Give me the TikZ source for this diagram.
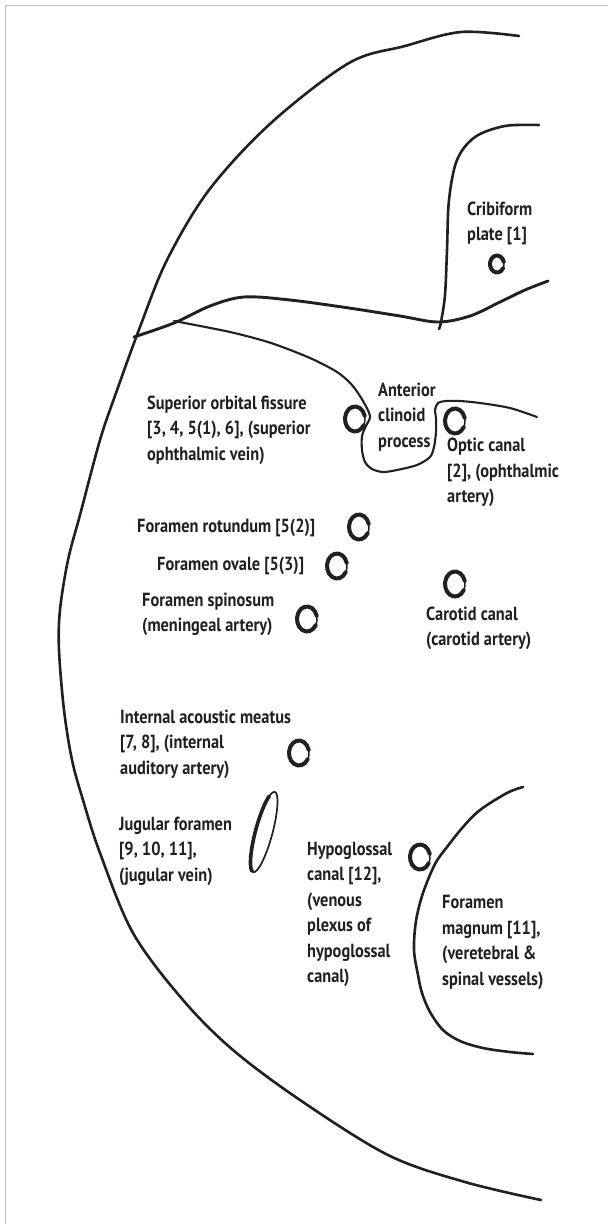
\documentclass[tikz,border=0pt]{standalone}
\usepackage{fontspec}
\setmainfont{PT Sans}[FakeStretch=0.86]
\definecolor{ink}{HTML}{231F20}
\definecolor{rule}{HTML}{BDBDBD}
\newcommand\foramenring[4]{% centre x, centre y, x radius, y radius
  \draw[ink, line width=4, line cap=round]
    ({#1+#3*cos(30)},{#2+#4*sin(30)}) arc[start angle=30, end angle=345, x radius=#3, y radius=#4];
  \draw[ink, line width=1.5, line cap=round]
    ({#1+#3*cos(340)},{#2+#4*sin(340)}) arc[start angle=340, end angle=395, x radius=#3, y radius=#4];
}
\begin{document}
\begin{tikzpicture}[x=1pt, y=-1pt,
  bone/.style={ink, line width=2.6, line cap=round, line join=round},
  fine/.style={ink, line width=2.1, line cap=round, line join=round},
  lab/.style={anchor=west, align=left, inner sep=0pt, text=ink,
    font=\fontsize{19}{25.5}\selectfont\bfseries}]
\useasboundingbox (0,0) rectangle (608,1224);
\fill[white] (0,0) rectangle (608,1224);
% frame edges
\draw[rule, line width=1.8] (5.5,1224) -- (5.5,5.5) -- (608,5.5);

% outline of the cranial base
\draw[bone] plot[smooth, tension=0.55] coordinates {
  (519,36) (461,32) (405,46) (349,63) (271,123) (209,190) (167,260)
  (140,327) (116,393) (100,440) (80,515) (68,560) (60,610) (59,650)
  (64,710) (72,760) (83,800) (100,853) (133,933) (183,1000) (233,1050)
  (300,1100) (388,1155) (465,1182) (541,1200)};

% lesser wing ridge
\draw[bone, line width=2.9] plot[smooth, tension=0.55] coordinates {
  (134,337) (174,323) (210,306) (244,297) (290,300) (349,308) (400,316)
  (438,322) (470,316) (500,302) (525,290) (548,281)};

% cribriform plate boundary
\draw[bone] plot[smooth, tension=0.55] coordinates {
  (539,125) (505,126) (475,137) (457,160) (449,200) (447,250) (445,295)
  (441,322) (439,329)};

% sphenoid edge and anterior clinoid process
\draw[fine] plot[smooth, tension=0.5] coordinates {
  (174,321) (230,332) (271,343) (310,358) (337,372) (352,385) (363,401)
  (370,416) (366,426) (362,436) (362,450) (365,462) (372,469) (383,472)
  (397,470) (417,465) (430,457) (434,447) (436,432) (436,418) (435,410)
  (438,403) (446,401) (460,401) (480,403) (510,408) (537,417)};

% foramen magnum margin
\draw[bone] plot[smooth, tension=0.55] coordinates {
  (523,787) (507,793) (480,810) (463,827) (447,847) (435,864) (423,893)
  (416,921) (414,950) (418,975) (422,993) (430,1012) (443,1030)
  (460,1041) (483,1048) (510,1052) (533,1054)};

% foramina
\foramenring{497}{264}{7}{8.5}
\foramenring{355}{419}{10}{12.5}
\foramenring{455}{421}{10}{12.5}
\foramenring{359}{527}{10}{12.5}
\foramenring{337}{566}{10}{12.5}
\foramenring{307}{619}{10}{12.5}
\foramenring{455}{584}{10}{12.5}
\foramenring{299}{753}{10}{12.5}
\foramenring{420}{857}{10}{12.5}
\begin{scope}[rotate around={75:(264,832)}]
  \draw[ink, line width=1.7] (264,832) ellipse [x radius=41.5, y radius=8.5];
  \draw[ink, line width=3.6, line cap=round]
    ({264+41.5*cos(190)},{832+8.5*sin(190)}) arc[start angle=190, end angle=330, x radius=41.5, y radius=8.5];
\end{scope}

% labels
\node[lab] (crib) at (467,223.5) {Cribiform\\plate [1]};
\node[lab] (sof) at (147,430) {Superior orbital fissure\\{}[3, 4, 5(1), 6], (superior\\ophthalmic vein)};
\node[lab] (acp) at (378,417) {Anterior\\clinoid\\process};
\node[lab] (opt) at (447,472.5) {Optic canal\\{}[2], (ophthalmic\\artery)};
\node[lab] (rot) at (137,528) {Foramen rotundum [5(2)]};
\node[lab] (ova) at (157,566) {Foramen ovale [5(3)]};
\node[lab] (spi) at (142,614.5) {Foramen spinosum\\(meningeal artery)};
\node[lab] (car) at (426,628.5) {Carotid canal\\(carotid artery)};
\node[lab] (iam) at (120,744) {Internal acoustic meatus\\{}[7, 8], (internal\\auditory artery)};
\node[lab] (jug) at (119,851) {Jugular foramen\\{}[9, 10, 11],\\(jugular vein)};
\node[lab] (hyp) at (307,914.5) {Hypoglossal\\canal [12],\\(venous\\plexus of\\hypoglossal\\canal)};
\node[lab] (mag) at (442,942.5) {Foramen\\magnum [11],\\(veretebral \&\\spinal vessels)};
\end{tikzpicture}
\end{document}
